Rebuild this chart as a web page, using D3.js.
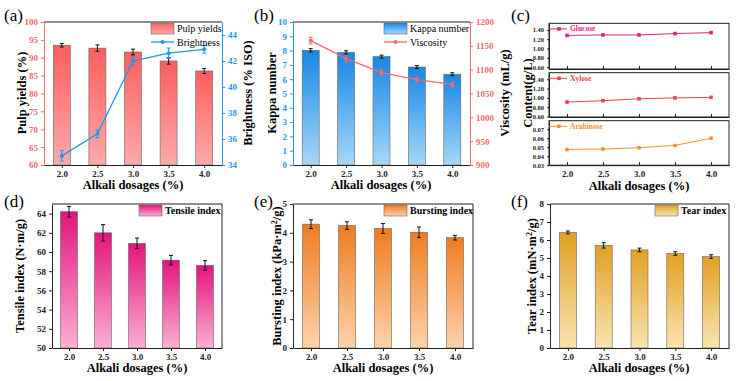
<!DOCTYPE html>
<html>
<head>
<script src="https://cdnjs.cloudflare.com/ajax/libs/d3/7.8.5/d3.min.js"></script>
<style>
  body { margin: 0; background: #fff; }
  text { font-family: "Liberation Serif", "Times New Roman", serif; }
</style>
</head>
<body>
<div id="canvas"></div>
<script>
// data
const dosages = [2.0, 2.5, 3.0, 3.5, 4.0];
const xTickLabels = ["2.0", "2.5", "3.0", "3.5", "4.0"];
const pulpYield = [93.5, 92.7, 91.6, 89.1, 86.3];
const pulpYieldErr = [0.5, 0.9, 0.8, 0.9, 0.7];
const brightness = [34.7, 36.4, 42.0, 42.6, 42.9];
const brightnessErr = [0.4, 0.3, 0.3, 0.4, 0.3];
const kappa = [8.02, 7.87, 7.58, 6.85, 6.35];
const kappaErr = [0.12, 0.12, 0.1, 0.1, 0.1];
const viscosity = [1161, 1123, 1094, 1079, 1069];
const viscosityErr = [7, 7, 6, 5, 5];
const glucose = [1.28, 1.29, 1.29, 1.32, 1.34];
const xylose = [0.91, 0.94, 0.98, 1.00, 1.01];
const arabinose = [0.0475, 0.048, 0.0495, 0.052, 0.060];
const tensile = [64.2, 62.0, 60.9, 59.15, 58.6];
const tensileErr = [0.55, 0.85, 0.55, 0.5, 0.5];
const bursting = [4.3, 4.25, 4.15, 4.02, 3.83];
const burstingErr = [0.15, 0.13, 0.17, 0.18, 0.08];
const tear = [6.42, 5.7, 5.45, 5.25, 5.08];
const tearErr = [0.08, 0.15, 0.1, 0.1, 0.1];

const RED = "#f46a6a", BLUE = "#1e9ae8";

const svg = d3.select("#canvas").append("svg").attr("width", 736).attr("height", 381);
const defs = svg.append("defs");

function grad(id, top, bottom) {
  const g = defs.append("linearGradient").attr("id", id)
    .attr("x1", 0).attr("y1", 0).attr("x2", 0).attr("y2", 1);
  g.append("stop").attr("offset", "0%").attr("stop-color", top);
  g.append("stop").attr("offset", "100%").attr("stop-color", bottom);
}

function styleAxis(sel, color, size) {
  sel.select(".domain").attr("stroke", color).attr("stroke-width", 1);
  sel.selectAll(".tick line").attr("stroke", color);
  sel.selectAll("text").attr("fill", color).attr("font-size", size)
    .attr("font-weight", "bold").attr("font-family", "Liberation Serif");
}

function errBars(g, x, y, vals, errs, color) {
  vals.forEach((v, i) => {
    const cx = x(dosages[i]), y1 = y(v - errs[i]), y2 = y(v + errs[i]);
    g.append("line").attr("x1", cx).attr("x2", cx).attr("y1", y1).attr("y2", y2)
      .attr("stroke", color).attr("stroke-width", 1);
    [y1, y2].forEach(yy => g.append("line").attr("x1", cx - 2).attr("x2", cx + 2)
      .attr("y1", yy).attr("y2", yy).attr("stroke", color).attr("stroke-width", 1));
  });
}

function xTitle(cx, y) {
  svg.append("text").attr("x", cx).attr("y", y).attr("text-anchor", "middle")
    .attr("font-size", 12.5).attr("font-weight", "bold").text("Alkali dosages (%)");
}

function yTitle(x, cy, txt) {
  const t = svg.append("text").attr("transform", `translate(${x},${cy}) rotate(-90)`)
    .attr("text-anchor", "middle").attr("dy", "0.35em")
    .attr("font-size", 12.5).attr("font-weight", "bold");
  txt(t);
}

function panelLabel(x, y, s) {
  svg.append("text").attr("x", x).attr("y", y).attr("font-size", 17).text(s);
}

// bar chart with optional line on the right axis
function barPanel(o) {
  const x = d3.scaleLinear().domain([1.75, 4.25]).range([o.l, o.r]);
  const y = d3.scaleLinear().domain(o.yDom).range([o.b, o.t]);
  const g = svg.append("g");
  grad(o.id, o.c1, o.c2);

  g.selectAll("rect.bar").data(o.vals).join("rect").attr("class", "bar")
    .attr("x", (d, i) => x(dosages[i]) - 8.5).attr("width", 17)
    .attr("y", d => y(d)).attr("height", d => o.b - y(d))
    .attr("fill", `url(#${o.id})`).attr("stroke", "#666").attr("stroke-width", 0.6);
  errBars(g, x, y, o.vals, o.errs, "#111");

  // frame
  g.append("line").attr("x1", o.l).attr("x2", o.r).attr("y1", o.t).attr("y2", o.t)
    .attr("stroke", "#222").attr("stroke-width", 1);
  if (!o.line) {
    g.append("line").attr("x1", o.r).attr("x2", o.r).attr("y1", o.t).attr("y2", o.b)
      .attr("stroke", "#222").attr("stroke-width", 1);
  }

  const ax = g.append("g").attr("transform", `translate(0,${o.b})`)
    .call(d3.axisBottom(x).tickValues(dosages).tickFormat((d, i) => xTickLabels[i])
      .tickSize(3).tickSizeOuter(0));
  styleAxis(ax, "#222", 9);

  const ay = g.append("g").attr("transform", `translate(${o.l},0)`)
    .call(d3.axisLeft(y).tickValues(o.yTicks).tickFormat(d3.format("d"))
      .tickSize(3).tickSizeOuter(0));
  styleAxis(ay, o.axisColor || "#222", 9);

  if (o.line) {
    const y2 = d3.scaleLinear().domain(o.line.dom).range([o.b, o.t]);
    const ay2 = g.append("g").attr("transform", `translate(${o.r},0)`)
      .call(d3.axisRight(y2).tickValues(o.line.ticks).tickFormat(d3.format("d"))
        .tickSize(3).tickSizeOuter(0));
    styleAxis(ay2, o.line.color, 9);
    g.append("path").datum(o.line.vals)
      .attr("d", d3.line().x((d, i) => x(dosages[i])).y(d => y2(d)))
      .attr("fill", "none").attr("stroke", o.line.color).attr("stroke-width", 1.3);
    errBars(g, x, y2, o.line.vals, o.line.errs, o.line.color);
    g.selectAll("circle.pt").data(o.line.vals).join("circle").attr("class", "pt")
      .attr("cx", (d, i) => x(dosages[i])).attr("cy", d => y2(d)).attr("r", 2)
      .attr("fill", o.line.color);
  }

  // legend
  const lg = o.legend;
  g.append("rect").attr("x", lg.x).attr("y", lg.y).attr("width", 23).attr("height", 11)
    .attr("fill", `url(#${o.id})`).attr("stroke", "#666").attr("stroke-width", 0.6);
  g.append("text").attr("x", lg.x + 26).attr("y", lg.y + 9)
    .attr("font-size", 10).attr("font-weight", lg.bold ? "bold" : "normal").text(lg.bar);
  if (o.line) {
    const ly = lg.y + 19;
    g.append("line").attr("x1", lg.x).attr("x2", lg.x + 23).attr("y1", ly).attr("y2", ly)
      .attr("stroke", o.line.color).attr("stroke-width", 1.3);
    g.append("circle").attr("cx", lg.x + 11.5).attr("cy", ly).attr("r", 2).attr("fill", o.line.color);
    g.append("text").attr("x", lg.x + 26).attr("y", ly + 3.5).attr("font-size", 10).text(lg.lineName);
  }
}

// (a)
barPanel({
  id: "ga", l: 44, r: 222, t: 22, b: 165, yDom: [60, 100], yTicks: d3.range(60, 101, 5),
  vals: pulpYield, errs: pulpYieldErr, c1: "#ff5e5e", c2: "#fbaaaa", axisColor: RED,
  line: { vals: brightness, errs: brightnessErr, dom: [34, 45], ticks: d3.range(34, 45, 2), color: BLUE },
  legend: { x: 151, y: 23, bar: "Pulp yields", lineName: "Brightness" }
});
// (b)
barPanel({
  id: "gb", l: 293, r: 470, t: 22, b: 165, yDom: [0, 10], yTicks: d3.range(0, 11, 1),
  vals: kappa, errs: kappaErr, c1: "#1787e6", c2: "#a6d8f6", axisColor: BLUE,
  line: { vals: viscosity, errs: viscosityErr, dom: [900, 1200], ticks: d3.range(900, 1201, 50), color: RED },
  legend: { x: 384, y: 23, bar: "Kappa number", lineName: "Viscosity" }
});
// (d)
barPanel({
  id: "gd", l: 52, r: 222, t: 204, b: 348, yDom: [50, 65], yTicks: d3.range(50, 65, 2),
  vals: tensile, errs: tensileErr, c1: "#e4137c", c2: "#fbb0d3",
  legend: { x: 139, y: 205, bar: "Tensile index", bold: true }
});
// (e)
barPanel({
  id: "ge", l: 293, r: 473, t: 204, b: 348, yDom: [0, 5], yTicks: d3.range(0, 6, 1),
  vals: bursting, errs: burstingErr, c1: "#ef7c1f", c2: "#fcd3ac",
  legend: { x: 384, y: 205, bar: "Bursting index", bold: true }
});
// (f)
barPanel({
  id: "gf", l: 550, r: 729, t: 204, b: 348, yDom: [0, 8], yTicks: d3.range(0, 9, 1),
  vals: tear, errs: tearErr, c1: "#e2a024", c2: "#f9e4b0",
  legend: { x: 655, y: 205, bar: "Tear index", bold: true }
});

// (c) three stacked sugar plots
const cx = d3.scaleLinear().domain([1.75, 4.25]).range([549, 729]);
function sugarPanel(t, b, dom, ticks, vals, color, name, shape, lastRow) {
  const y = d3.scaleLinear().domain(dom).range([b, t]);
  const g = svg.append("g");
  g.append("rect").attr("x", 549).attr("y", t).attr("width", 180).attr("height", b - t)
    .attr("fill", "none").attr("stroke", "#222").attr("stroke-width", 1);
  const ay = g.append("g").attr("transform", "translate(549,0)")
    .call(d3.axisLeft(y).tickValues(ticks).tickFormat(d3.format(".2f")).tickSize(2).tickSizeOuter(0));
  styleAxis(ay, "#222", 6.5);
  const ax = g.append("g").attr("transform", `translate(0,${b})`)
    .call(d3.axisTop(cx).tickValues(dosages).tickSize(3).tickSizeOuter(0));
  ax.selectAll("text").remove();
  styleAxis(ax, "#222", 9);
  if (lastRow) {
    const axl = g.append("g").attr("transform", `translate(0,${b})`)
      .call(d3.axisBottom(cx).tickValues(dosages).tickFormat((d, i) => xTickLabels[i])
        .tickSize(0).tickPadding(5));
    axl.select(".domain").remove();
    styleAxis(axl, "#222", 9);
  }
  g.append("path").datum(vals)
    .attr("d", d3.line().x((d, i) => cx(dosages[i])).y(d => y(d)))
    .attr("fill", "none").attr("stroke", color).attr("stroke-width", 1);
  const sym = d3.symbol().type(shape).size(13);
  g.selectAll("path.pt").data(vals).join("path").attr("class", "pt")
    .attr("transform", (d, i) => `translate(${cx(dosages[i])},${y(d)})`)
    .attr("d", sym).attr("fill", color);
  const ly = t + 5.6;
  g.append("line").attr("x1", 549).attr("x2", 567).attr("y1", ly).attr("y2", ly)
    .attr("stroke", color).attr("stroke-width", 1);
  g.append("path").attr("transform", `translate(559,${ly})`).attr("d", sym).attr("fill", color);
  g.append("text").attr("x", 570).attr("y", ly + 2.5).attr("font-size", 7.5)
    .attr("font-weight", "bold").attr("fill", color).text(name);
}
sugarPanel(23.3, 69, [0.56, 1.54], [0.6, 0.8, 1.0, 1.2, 1.4], glucose, "#ea1f7c", "Glucose", d3.symbolSquare, false);
sugarPanel(72.7, 117, [0.59, 1.54], [0.6, 0.8, 1.0, 1.2, 1.4], xylose, "#f0434f", "Xylose", d3.symbolSquare, false);
sugarPanel(120.7, 165.2, [0.03, 0.0795], [0.03, 0.04, 0.05, 0.06, 0.07], arabinose, "#f5902f", "Arabinose", d3.symbolCircle, true);

// titles
panelLabel(4, 21, "(a)");
panelLabel(254, 21, "(b)");
panelLabel(511, 21, "(c)");
panelLabel(4, 207, "(d)");
panelLabel(254, 207, "(e)");
panelLabel(511, 207, "(f)");

xTitle(133, 189); xTitle(381, 189); xTitle(639, 189.5);
xTitle(137, 372); xTitle(383, 372); xTitle(639, 372);

yTitle(22, 93, t => t.text("Pulp yields (%)"));
yTitle(248, 93, t => t.text("Brightness (% ISO)"));
yTitle(272, 93, t => t.text("Kappa number"));
yTitle(505, 93, t => t.text("Viscosity (mL/g)"));
yTitle(528, 93, t => t.text("Content(g/L)"));
yTitle(20, 276, t => t.text("Tensile index (N·m/g)"));
yTitle(277, 276, t => { t.append("tspan").text("Bursting index (kPa·m");
  t.append("tspan").attr("baseline-shift", "super").attr("font-size", 8).text("2");
  t.append("tspan").text("/g)"); });
yTitle(532, 276, t => { t.append("tspan").text("Tear index (mN·m");
  t.append("tspan").attr("baseline-shift", "super").attr("font-size", 8).text("2");
  t.append("tspan").text("/g)"); });
</script>
</body>
</html>
